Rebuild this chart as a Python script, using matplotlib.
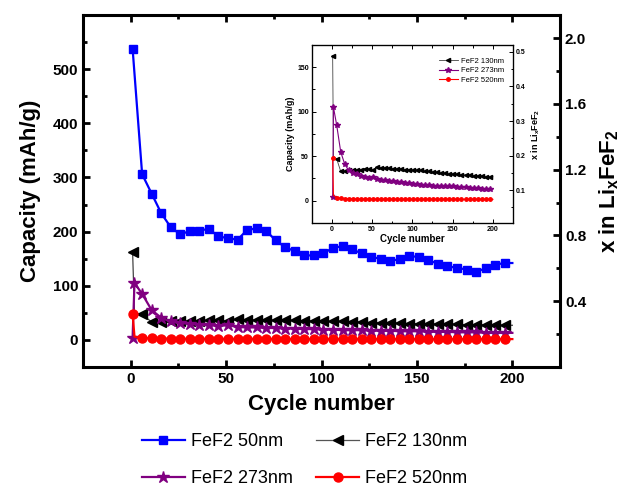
import matplotlib
matplotlib.use("Agg")
import matplotlib.pyplot as plt
from matplotlib.lines import Line2D
from matplotlib.ticker import MultipleLocator

plt.rcParams['font.family'] = ['Liberation Sans', 'DejaVu Sans']
plt.rcParams['mathtext.fontset'] = 'custom'
plt.rcParams['mathtext.bf'] = 'Liberation Sans:bold'
plt.rcParams['mathtext.rm'] = 'Liberation Sans:bold'

# cycle numbers where markers sit (every 5 cycles)
cycles = [1, 6, 11, 16, 21, 26, 31, 36, 41, 46, 51, 56, 61, 66, 71, 76, 81, 86, 91, 96,
          101, 106, 111, 116, 121, 126, 131, 136, 141, 146, 151, 156, 161, 166, 171, 176,
          181, 186, 191, 196]
cycles_50 = cycles + [200]
cycles_other = [1, 2] + cycles[1:] + [200]

cap_50 = [538, 306, 270, 234, 208, 195, 201, 202, 205, 191, 188, 185, 203, 206, 201, 184,
          171, 164, 156, 156, 160, 170, 173, 167, 160, 153, 150, 146, 149, 155, 153, 147,
          141, 136, 133, 130, 126, 132, 139, 142, 142]
cap_130 = [163, 50, 47, 33, 33, 34, 34, 35, 35, 36, 36, 35, 38, 37, 37, 37, 36, 36, 36, 35,
           35, 34, 34, 34, 33, 33, 32, 32, 31, 31, 30, 30, 30, 29, 29, 29, 28, 28, 28, 27,
           27, 27]
cap_273 = [4, 105, 85, 55, 41, 34, 31, 30, 28, 27, 26, 27, 24, 23, 23, 22, 22, 21, 21, 20,
           20, 19, 19, 18, 18, 18, 17, 17, 17, 16, 16, 16, 15, 15, 15, 14, 14, 14, 13, 13,
           13, 13]
cap_520 = [48, 6, 3.5, 3, 2.5, 2.5, 2.2, 2, 2, 2, 2, 1.8, 1.8, 1.8, 1.8, 1.7, 1.7, 1.7, 1.6,
           1.6, 1.6, 1.5, 1.5, 1.5, 1.5, 1.5, 1.5, 1.5, 1.5, 1.5, 1.5, 1.5, 1.5, 1.5, 1.5,
           1.5, 1.5, 1.5, 1.5, 1.5, 1.5, 1.5]

labels = ['FeF2 50nm', 'FeF2 130nm', 'FeF2 273nm', 'FeF2 520nm']

BLUE = '#0000ff'
PURPLE = '#800080'
RED = '#ff0000'

mark_50 = list(range(len(cycles_50) - 1))
mark_skip = [0] + list(range(2, len(cycles_other) - 1))
mark_273 = list(range(len(cycles_other) - 1))

fig = plt.figure(figsize=(6.3, 4.86), dpi=100)
ax = fig.add_axes([0.1317, 0.2449, 0.7573, 0.7242])

ax.plot(cycles_50, cap_50, color=BLUE, lw=1.6, marker='s', ms=6, markevery=mark_50)
ax.plot(cycles_other, cap_130, color='#444444', lw=0.9, marker='<', ms=7.5,
        mfc='k', mec='k', markevery=mark_skip)
ax.plot(cycles_other, cap_273, color=PURPLE, lw=1.6, marker='*', ms=9, markevery=mark_273)
ax.plot(cycles_other, cap_520, color=RED, lw=1.6, marker='o', ms=6.5, markevery=mark_skip)

ax.set_xlim(-25, 225)
ax.set_ylim(-50, 600)
ax.set_xticks([0, 50, 100, 150, 200])
ax.set_yticks([0, 100, 200, 300, 400, 500])
ax.xaxis.set_minor_locator(MultipleLocator(25))
ax.yaxis.set_minor_locator(MultipleLocator(50))
ax.tick_params(which='both', direction='in', top=True, right=False, width=2)
ax.tick_params(which='major', length=5, labelsize=11)
ax.tick_params(which='minor', length=3)
for s in ax.spines.values():
    s.set_linewidth(2.2)
for t in ax.get_xticklabels() + ax.get_yticklabels():
    t.set_fontweight('bold')
ax.set_xlabel('Cycle number', fontsize=16, fontweight='bold', labelpad=6)
ax.set_ylabel('Capacity (mAh/g)', fontsize=16, fontweight='bold', labelpad=8)

ax2 = ax.twinx()
ax2.set_ylim(0, 2.14)
ax2.set_yticks([0.4, 0.8, 1.2, 1.6, 2.0])
ax2.yaxis.set_minor_locator(MultipleLocator(0.2))
ax2.tick_params(which='both', direction='in', width=2)
ax2.tick_params(which='major', length=5, labelsize=11)
ax2.tick_params(which='minor', length=3)
for t in ax2.get_yticklabels():
    t.set_fontweight('bold')
ax2.set_ylabel(r'x in Li$_\mathbf{x}$FeF$_\mathbf{2}$', fontsize=16, fontweight='bold',
               labelpad=8)

handles = [
    Line2D([], [], color=BLUE, lw=1.6, marker='s', ms=6),
    Line2D([], [], color='#555555', lw=0.9, marker='<', ms=7.5, mfc='k', mec='k'),
    Line2D([], [], color=PURPLE, lw=1.6, marker='*', ms=9),
    Line2D([], [], color=RED, lw=1.6, marker='o', ms=6.5),
]
order = [0, 2, 1, 3]
fig.legend([handles[i] for i in order], [labels[i] for i in order], ncol=2,
           loc='center', bbox_to_anchor=(0.483, 0.053), frameon=False, fontsize=13,
           handlelength=2.4, handletextpad=0.3, columnspacing=1.3, labelspacing=1.1)

# inset
axi = fig.add_axes([0.4948, 0.5412, 0.3195, 0.3662])
li1, = axi.plot(cycles_other, cap_130, color='#444444', lw=0.6, marker='<', ms=3,
                mfc='k', mec='k', markevery=mark_skip)
li2, = axi.plot(cycles_other, cap_273, color=PURPLE, lw=0.8, marker='*', ms=4,
                markevery=mark_273)
li3, = axi.plot(cycles_other, cap_520, color=RED, lw=0.8, marker='o', ms=2.5,
                markevery=mark_skip)
axi.set_xlim(-25, 225)
axi.set_ylim(-25, 175)
axi.set_xticks([0, 50, 100, 150, 200])
axi.set_yticks([0, 50, 100, 150])
axi.xaxis.set_minor_locator(MultipleLocator(25))
axi.yaxis.set_minor_locator(MultipleLocator(25))
axi.tick_params(which='both', direction='in', top=True, right=False, width=0.7)
axi.tick_params(which='major', length=3, labelsize=5, pad=2)
axi.tick_params(which='minor', length=1.8)
for s in axi.spines.values():
    s.set_linewidth(0.9)
for t in axi.get_xticklabels() + axi.get_yticklabels():
    t.set_fontweight('bold')
axi.set_xlabel('Cycle number', fontsize=7, fontweight='bold', labelpad=1)
axi.set_ylabel('Capacity (mAh/g)', fontsize=6.5, fontweight='bold', labelpad=2)

axi2 = axi.twinx()
axi2.set_ylim(0.005, 0.52)
axi2.set_yticks([0.1, 0.2, 0.3, 0.4, 0.5])
axi2.yaxis.set_minor_locator(MultipleLocator(0.05))
axi2.tick_params(which='both', direction='in', width=0.7)
axi2.tick_params(which='major', length=3, labelsize=5, pad=2)
axi2.tick_params(which='minor', length=1.8)
for t in axi2.get_yticklabels():
    t.set_fontweight('bold')
axi2.set_ylabel(r'x in Li$_\mathbf{x}$FeF$_\mathbf{2}$', fontsize=6.5, fontweight='bold',
                labelpad=3)

ins_handles = [
    Line2D([], [], color='#444444', lw=0.6, marker='<', ms=3, mfc='k', mec='k'),
    Line2D([], [], color=PURPLE, lw=0.8, marker='*', ms=4),
    Line2D([], [], color=RED, lw=0.8, marker='o', ms=2.5),
]
axi.legend(ins_handles, labels[1:], loc='upper right', frameon=False, fontsize=5.5,
           handlelength=2.5, handletextpad=0.4, labelspacing=0.3,
           bbox_to_anchor=(0.99, 0.97))

fig.savefig('out.png', dpi=100)
